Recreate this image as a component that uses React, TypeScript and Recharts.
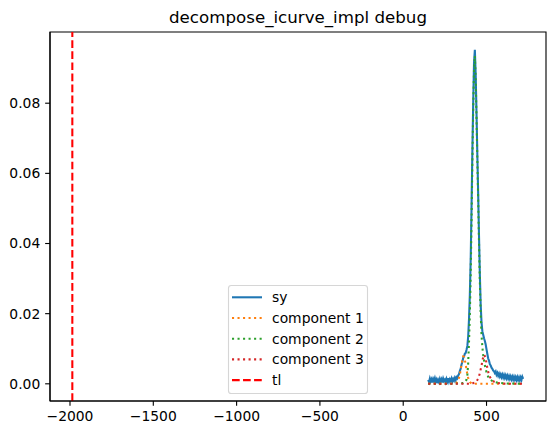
import React from 'react';
import { LineChart, Line, XAxis, YAxis, ReferenceLine, ReferenceArea } from 'recharts';

// sy: measured curve
const syX = [150,155,160,165,170,175,180,185,190,195,200,205,210,215,220,225,230,235,240,245,250,255,260,265,270,275,280,285,290,295,300,305,310,315,320,325,330,335,340,345,350,355,360,365,370,375,380,385,390,395,400,405,410,415,420,425,430,435,440,445,450,455,460,465,470,475,480,485,490,495,500,505,510,515,520,525,530,535,540,545,550,555,560,565,570,575,580,585,590,595,600,605,610,615,620,625,630,635,640,645,650,655,660,665,670,675,680,685,690,695,700,705,710,715,720];
const syY = [0.0011,0.0005,0.0015,0.0007,0.0013,0.0004,0.0014,0.0008,0.0016,0.0006,0.0012,0.0002,0.0011,0.0005,0.0014,0.0007,0.0013,0.0004,0.0015,0.0008,0.0012,0.0005,0.0014,0.0007,0.0016,0.0006,0.0013,0.0008,0.0015,0.0007,0.0014,0.0009,0.0017,0.0011,0.0019,0.0016,0.0024,0.0028,0.0037,0.0043,0.0055,0.0062,0.0074,0.0078,0.0086,0.0088,0.0097,0.0108,0.0135,0.0185,0.0255,0.0355,0.0500,0.0660,0.0800,0.0915,0.0952,0.0880,0.0770,0.0650,0.0540,0.0420,0.0310,0.0225,0.0175,0.0150,0.0140,0.0130,0.0122,0.0112,0.0098,0.0085,0.0072,0.0066,0.0056,0.0052,0.0046,0.0043,0.0038,0.0036,0.0031,0.0035,0.0026,0.0031,0.0023,0.0029,0.0021,0.0027,0.0019,0.0026,0.0018,0.0025,0.0017,0.0024,0.0016,0.0023,0.0015,0.0022,0.0014,0.0021,0.0013,0.0020,0.0012,0.0020,0.0012,0.0019,0.0011,0.0019,0.0011,0.0018,0.0010,0.0018,0.0011,0.0020,0.0014];

// component 1
const c1X = [150,300,320,330,340,350,355,360,365,370,375,380,385,390,395,400,410,420,720];
const c1Y = [0,0,0.0003,0.0009,0.0026,0.0055,0.0068,0.0078,0.0077,0.0068,0.0055,0.0040,0.0027,0.0017,0.0010,0.0005,0.0001,0,0];

// component 2
const c2X = [150,300,340,360,370,380,385,390,395,400,405,410,415,420,425,430,435,440,445,450,455,460,465,470,475,480,490,500,510,520,540,570,620,720];
const c2Y = [0,0,0.0001,0.0002,0.0004,0.0012,0.0025,0.0060,0.0120,0.0200,0.0310,0.0460,0.0630,0.0780,0.0895,0.0935,0.0870,0.0760,0.0640,0.0525,0.0400,0.0290,0.0200,0.0140,0.0105,0.0082,0.0052,0.0033,0.0020,0.0013,0.0006,0.0003,0.0001,0];

// component 3
const c3X = [150,400,430,440,450,460,470,478,486,494,502,510,520,530,545,560,590,620,720];
const c3Y = [0,0,0.0003,0.0007,0.0015,0.0030,0.0052,0.0072,0.0083,0.0075,0.0052,0.0034,0.0020,0.0012,0.0006,0.0003,0.0001,0,0];

const tl = -1986;

const xTicks = [-2000, -1500, -1000, -500, 0, 500];
const yTicks = [0, 0.02, 0.04, 0.06, 0.08];
const xDomain: [number, number] = [-2120, 857];
const yDomain: [number, number] = [-0.0049, 0.1003];

const DOT = '2.08 3.44';
const DASH = '7.7 3.33';
const LW = 2.08;

const legendItems = [
  { label: 'sy', color: '#1f77b4', dash: undefined as string | undefined },
  { label: 'component 1', color: '#ff7f0e', dash: DOT },
  { label: 'component 2', color: '#2ca02c', dash: DOT },
  { label: 'component 3', color: '#d62728', dash: DOT },
  { label: 'tl', color: '#ff0000', dash: DASH },
];

const toPts = (xs: number[], ys: number[]) => xs.map((x, i) => ({ x, y: ys[i] }));

const FONT = '"DejaVu Sans", sans-serif';
const fmtX = (v: number) => String(v).replace('-', '\u2212');
const fmtY = (v: number) => v.toFixed(2);

export default function App() {
  const tickStyle = { fill: '#000', fontSize: 13.89, fontFamily: FONT };
  return (
    <div style={{ position: 'absolute', left: 0, top: 0, width: 556, height: 435, background: '#fff' }}>
      <LineChart width={556} height={435} margin={{ top: 32, right: 10, bottom: 0, left: 0 }}>
        <XAxis
          type="number"
          dataKey="x"
          domain={xDomain}
          ticks={xTicks}
          allowDataOverflow
          height={34}
          tickSize={4.86}
          tickMargin={5.4}
          tickFormatter={fmtX}
          tick={tickStyle}
          stroke="#000"
          axisLine={{ stroke: '#000', strokeWidth: 1.11 }}
          tickLine={{ stroke: '#000', strokeWidth: 1.11 }}
        />
        <YAxis
          type="number"
          dataKey="y"
          domain={yDomain}
          ticks={yTicks}
          allowDataOverflow
          width={50}
          tickSize={4.86}
          tickMargin={4.86}
          tickFormatter={fmtY}
          tick={tickStyle}
          stroke="#000"
          axisLine={{ stroke: '#000', strokeWidth: 1.11 }}
          tickLine={{ stroke: '#000', strokeWidth: 1.11 }}
        />
        <Line data={toPts(syX, syY)} dataKey="y" stroke="#1f77b4" strokeWidth={LW} dot={false} isAnimationActive={false} />
        <Line data={toPts(c1X, c1Y)} dataKey="y" stroke="#ff7f0e" strokeWidth={LW} strokeDasharray={DOT} dot={false} isAnimationActive={false} />
        <Line data={toPts(c2X, c2Y)} dataKey="y" stroke="#2ca02c" strokeWidth={LW} strokeDasharray={DOT} dot={false} isAnimationActive={false} />
        <Line data={toPts(c3X, c3Y)} dataKey="y" stroke="#d62728" strokeWidth={LW} strokeDasharray={DOT} dot={false} isAnimationActive={false} />
        <ReferenceLine x={tl} stroke="#ff0000" strokeWidth={LW} strokeDasharray={DASH} />
        <ReferenceArea x1={xDomain[0]} x2={xDomain[1]} y1={yDomain[0]} y2={yDomain[1]} fill="none" stroke="#000" strokeWidth={1.11} fillOpacity={0} />
      </LineChart>
      <div style={{ position: 'absolute', left: 0, top: 0, width: 556, pointerEvents: 'none' }}>
        <svg width={556} height={435} style={{ position: 'absolute', left: 0, top: 0 }}>
          <text x={298} y={23.3} textAnchor="middle" fontSize={16.67} fontFamily={FONT} fill="#000">
            decompose_icurve_impl debug
          </text>
          <rect x={228.5} y={285.5} width={139} height={108} rx={2.8} fill="#fff" fillOpacity={0.8} stroke="#d6d6d6" strokeWidth={1.11} />
          {legendItems.map((it, i) => {
            const cy = 297.3 + i * 20.7;
            return (
              <g key={it.label}>
                <line x1={232} x2={262} y1={cy} y2={cy} stroke={it.color} strokeWidth={LW} strokeDasharray={it.dash} />
                <text x={272} y={cy + 5} fontSize={13.89} fontFamily={FONT} fill="#000">{it.label}</text>
              </g>
            );
          })}
        </svg>
      </div>
    </div>
  );
}
